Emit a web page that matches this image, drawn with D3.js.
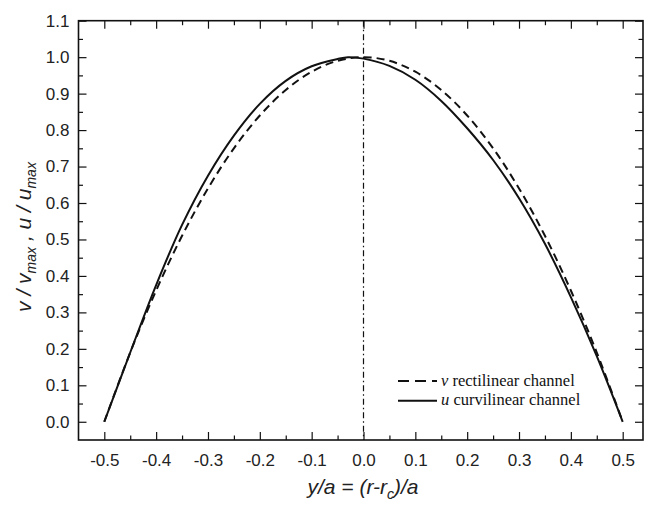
<!DOCTYPE html>
<html><head><meta charset="utf-8">
<script src="https://cdn.jsdelivr.net/npm/d3@7"></script>
<style>body{margin:0;background:#fff}</style>
</head><body>
<svg id="c" width="646" height="505"></svg>
<script>
const yPos = [-0.5,-0.45,-0.4,-0.35,-0.3,-0.25,-0.2,-0.15,-0.1,-0.05,0,0.05,0.1,0.15,0.2,0.25,0.3,0.35,0.4,0.45,0.5];
const vRect = [0,0.19,0.36,0.51,0.64,0.75,0.84,0.91,0.96,0.99,1.0,0.99,0.96,0.91,0.84,0.75,0.64,0.51,0.36,0.19,0];
const uPos = [-0.5,-0.45,-0.4,-0.35,-0.3,-0.25,-0.2,-0.15,-0.1,-0.05,-0.03,0,0.05,0.1,0.15,0.2,0.25,0.3,0.35,0.4,0.45,0.5];
const uCurv = [0,0.19,0.375,0.54,0.675,0.785,0.872,0.935,0.975,0.995,1.0,0.996,0.976,0.938,0.88,0.805,0.718,0.613,0.488,0.342,0.18,0];
const xTicks = [-0.5,-0.4,-0.3,-0.2,-0.1,0,0.1,0.2,0.3,0.4,0.5];
const xMinor = [-0.45,-0.35,-0.25,-0.15,-0.05,0.05,0.15,0.25,0.35,0.45];
const yTicks = [0,0.1,0.2,0.3,0.4,0.5,0.6,0.7,0.8,0.9,1.0,1.1];
const yMinor = [0.05,0.15,0.25,0.35,0.45,0.55,0.65,0.75,0.85,0.95,1.05];
const legendLabels = [["v"," rectilinear channel"],["u"," curvilinear channel"]];

const svg = d3.select("#c");
const L=78.5, R=643, T=20.7, B=440;
const x = d3.scaleLinear().domain([-0.5,0.5]).range([104.3,622.7]);
const y = d3.scaleLinear().domain([-0.05,1.1]).range([B,T]);
const font = "'Liberation Sans', Arial, sans-serif";
const ink = "#111";
const fmt = d => d.toFixed(1);

function styleAxis(g, showLabels){
  g.select(".domain").remove();
  g.selectAll(".tick line").attr("stroke", ink).attr("stroke-width",1.2);
  g.selectAll(".tick text").attr("font-family",font).attr("font-size",17).attr("fill","#222");
  if(!showLabels) g.selectAll(".tick text").remove();
}
// bottom
svg.append("g").attr("transform",`translate(0,${B})`)
  .call(d3.axisBottom(x).tickValues(xTicks).tickSize(-8).tickSizeOuter(0).tickPadding(14).tickFormat(fmt))
  .call(g=>styleAxis(g,true));
svg.append("g").attr("transform",`translate(0,${B})`)
  .call(d3.axisBottom(x).tickValues(xMinor).tickSize(-4.5).tickSizeOuter(0).tickFormat(""))
  .call(g=>styleAxis(g,false));
// top
svg.append("g").attr("transform",`translate(0,${T})`)
  .call(d3.axisTop(x).tickValues(xTicks).tickSize(-8).tickSizeOuter(0).tickFormat(""))
  .call(g=>styleAxis(g,false));
svg.append("g").attr("transform",`translate(0,${T})`)
  .call(d3.axisTop(x).tickValues(xMinor).tickSize(-4.5).tickSizeOuter(0).tickFormat(""))
  .call(g=>styleAxis(g,false));
// left
svg.append("g").attr("transform",`translate(${L},0)`)
  .call(d3.axisLeft(y).tickValues(yTicks).tickSize(-8).tickSizeOuter(0).tickPadding(9).tickFormat(fmt))
  .call(g=>styleAxis(g,true));
svg.append("g").attr("transform",`translate(${L},0)`)
  .call(d3.axisLeft(y).tickValues(yMinor).tickSize(-4.5).tickSizeOuter(0).tickFormat(""))
  .call(g=>styleAxis(g,false));
// right
svg.append("g").attr("transform",`translate(${R},0)`)
  .call(d3.axisRight(y).tickValues(yTicks).tickSize(-8).tickSizeOuter(0).tickFormat(""))
  .call(g=>styleAxis(g,false));
svg.append("g").attr("transform",`translate(${R},0)`)
  .call(d3.axisRight(y).tickValues(yMinor).tickSize(-4.5).tickSizeOuter(0).tickFormat(""))
  .call(g=>styleAxis(g,false));

// frame
svg.append("rect").attr("x",L).attr("y",T).attr("width",R-L).attr("height",B-T)
  .attr("fill","none").attr("stroke",ink).attr("stroke-width",1.6);

// center dash-dot line
svg.append("line").attr("x1",x(0)).attr("x2",x(0)).attr("y1",T).attr("y2",B)
  .attr("stroke",ink).attr("stroke-width",1.2).attr("stroke-dasharray","6,3,1.5,3");

const line = d3.line().curve(d3.curveCatmullRom.alpha(0.5));
svg.append("path").attr("d", line(yPos.map((d,i)=>[x(d),y(vRect[i])])))
  .attr("fill","none").attr("stroke",ink).attr("stroke-width",2).attr("stroke-dasharray","8,5");
svg.append("path").attr("d", line(uPos.map((d,i)=>[x(d),y(uCurv[i])])))
  .attr("fill","none").attr("stroke",ink).attr("stroke-width",2);

// legend
const lg = svg.append("g");
[381, 400.7].forEach((ly,i)=>{
  lg.append("line").attr("x1",398).attr("x2",437).attr("y1",ly).attr("y2",ly)
    .attr("stroke",ink).attr("stroke-width",2).attr("stroke-dasharray", i===0?"11,6":null);
  const t = lg.append("text").attr("x",441).attr("y",ly+4.5)
    .attr("font-family","'Liberation Serif','Times New Roman',serif").attr("font-size",16.5).attr("fill",ink);
  t.append("tspan").attr("font-style","italic").text(legendLabels[i][0]);
  t.append("tspan").text(legendLabels[i][1]);
});

// x title
const xt = svg.append("text").attr("x",363).attr("y",494).attr("text-anchor","middle")
  .attr("font-family",font).attr("font-size",21).attr("font-style","italic").attr("fill","#222");
xt.append("tspan").text("y/a = (r-r");
xt.append("tspan").attr("font-size",14).attr("dy",5).text("c");
xt.append("tspan").attr("dy",-5).text(")/a");

// y title
const yt = svg.append("text").attr("transform","translate(31,237) rotate(-90)").attr("text-anchor","middle")
  .attr("font-family",font).attr("font-size",21).attr("font-style","italic").attr("fill","#222");
yt.append("tspan").text("v / v");
yt.append("tspan").attr("font-size",14).attr("dy",5).text("max");
yt.append("tspan").attr("dy",-5).text(" , u / u");
yt.append("tspan").attr("font-size",14).attr("dy",5).text("max");
</script>
</body></html>
